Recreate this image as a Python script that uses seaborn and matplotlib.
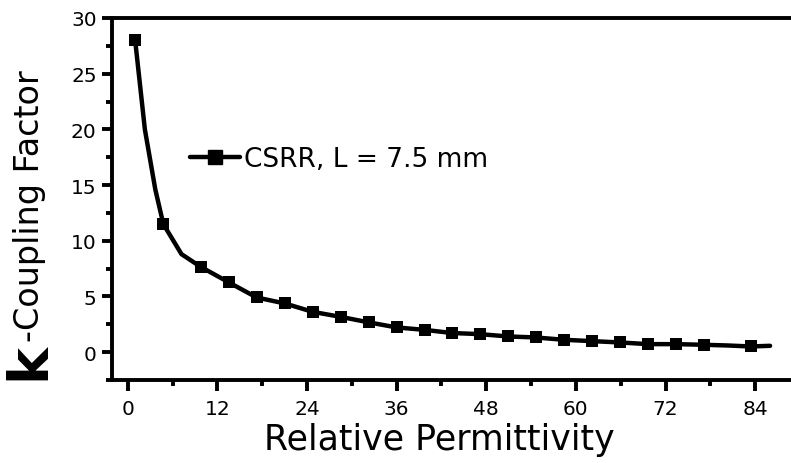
import matplotlib
matplotlib.use("Agg")
import matplotlib.pyplot as plt
from matplotlib.lines import Line2D
from matplotlib.ticker import MultipleLocator
import seaborn as sns
import pandas as pd

# Data
line_x = [1, 2.3, 3.7, 4.77, 7.2, 9.77, 13.55, 17.26, 21.05, 24.76, 28.5, 32.3,
          36.0, 39.75, 43.4, 47.1, 50.9, 54.6, 58.4, 62.2, 65.9, 69.7, 73.4,
          77.2, 80.3, 83.4, 86.0]
line_y = [28.0, 20.0, 14.6, 11.5, 8.8, 7.66, 6.26, 4.91, 4.37, 3.62, 3.17, 2.67,
          2.22, 2.0, 1.72, 1.62, 1.41, 1.32, 1.11, 0.99, 0.87, 0.72, 0.72,
          0.66, 0.60, 0.51, 0.57]
marker_x = [1, 4.77, 9.77, 13.55, 17.26, 21.05, 24.76, 28.5, 32.3, 36.0, 39.75,
            43.4, 47.1, 50.9, 54.6, 58.4, 62.2, 65.9, 69.7, 73.4, 77.2, 83.4]
marker_y = [28.0, 11.5, 7.66, 6.26, 4.91, 4.37, 3.62, 3.17, 2.67, 2.22, 2.0,
            1.72, 1.62, 1.41, 1.32, 1.11, 0.99, 0.87, 0.72, 0.72, 0.66, 0.51]
series_label = "CSRR, L = 7.5 mm"
x_label = "Relative Permittivity"
y_label_k = "k"
y_label_rest = "-Coupling Factor"
x_ticks = [0, 12, 24, 36, 48, 60, 72, 84]
y_ticks = [0, 5, 10, 15, 20, 25, 30]

sns.set_style("ticks")
plt.rcParams['font.family'] = ['DejaVu Sans']
plt.rcParams['text.color'] = 'black'
plt.rcParams['axes.labelcolor'] = 'black'
plt.rcParams['xtick.color'] = 'black'
plt.rcParams['ytick.color'] = 'black'

fig = plt.figure(figsize=(7.91, 4.64), dpi=100)
W, H = 791, 464
ax = fig.add_axes([112 / W, 1 - 381 / H, 1 - 112 / W, (381 - 19) / H])

line_df = pd.DataFrame({"x": line_x, "y": line_y})
mark_df = pd.DataFrame({"x": marker_x, "y": marker_y})
sns.lineplot(data=line_df, x="x", y="y", color="black", linewidth=3.2,
             ax=ax, legend=False, sort=False, solid_capstyle="round")
sns.scatterplot(data=mark_df, x="x", y="y", marker="s", s=85, color="black",
                edgecolor="black", linewidth=0, ax=ax, legend=False, zorder=3)

ax.set_xlim(-2.1, 88.8)
ax.set_ylim(-2.5, 30)
ax.set_xticks(x_ticks)
ax.set_yticks(y_ticks)
ax.xaxis.set_minor_locator(MultipleLocator(6))
ax.yaxis.set_minor_locator(MultipleLocator(2.5))
ax.set_xlabel("")
ax.set_ylabel("")

for s in ["left", "bottom", "top"]:
    ax.spines[s].set_linewidth(2.8)
    ax.spines[s].set_color("black")
ax.spines["right"].set_visible(False)

ax.tick_params(axis="both", which="major", direction="out", length=7, width=2.8,
               labelsize=14.5, colors="black", labelcolor="black", pad=4)
ax.tick_params(axis="both", which="minor", direction="out", length=4, width=2.8,
               colors="black")
ax.tick_params(axis="x", which="major", length=8, pad=6)

fig.text((127.7 + 751) / 2 / W, 1 - 440 / H, x_label, fontsize=25,
         ha="center", va="center", color="black")
fig.text(29 / W, 1 - 380 / H, y_label_k, fontsize=40, fontweight="bold",
         rotation=90, ha="center", va="bottom", color="black")
fig.text(30 / W, 1 - 342 / H, y_label_rest, fontsize=24,
         rotation=90, ha="center", va="bottom", color="black")

handle = Line2D([], [], color="black", linewidth=3.2, marker="s", markersize=9.5)
leg = fig.legend([handle], [series_label], loc="center left",
                 bbox_to_anchor=(190 / W, 1 - 160 / H), frameon=False, fontsize=19,
                 handlelength=1.9, handletextpad=0.15, borderpad=0, borderaxespad=0)
for t in leg.get_texts():
    t.set_color("black")

fig.savefig("out.png", dpi=100)
